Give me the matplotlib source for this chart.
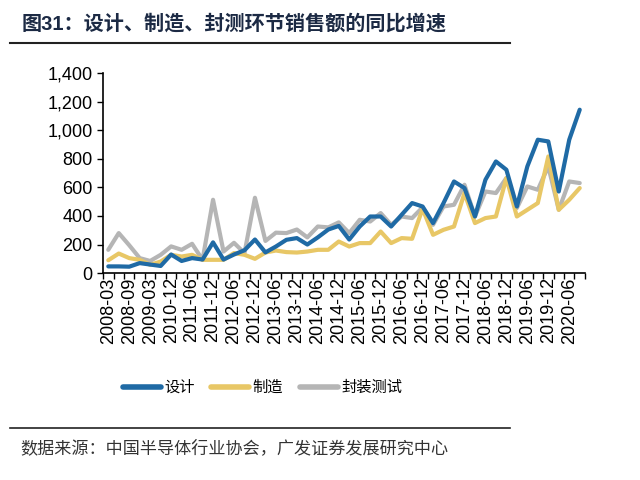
import matplotlib
matplotlib.use("Agg")
import matplotlib.pyplot as plt

plt.rcParams['font.family'] = ['Liberation Sans', 'Noto Sans CJK SC']

quarters = ["2008-03", "2008-06", "2008-09", "2008-12", "2009-03", "2010-09",
            "2010-12", "2011-03", "2011-06", "2011-09", "2011-12", "2012-03",
            "2012-06", "2012-09", "2012-12", "2013-03", "2013-06", "2013-09",
            "2013-12", "2014-03", "2014-06", "2014-09", "2014-12", "2015-03",
            "2015-06", "2015-09", "2015-12", "2016-03", "2016-06", "2016-09",
            "2016-12", "2017-03", "2017-06", "2017-09", "2017-12", "2018-03",
            "2018-06", "2018-09", "2018-12", "2019-03", "2019-06", "2019-09",
            "2019-12", "2020-03", "2020-06", "2020-09"]

design = [47, 47, 45, 70, 60, 50, 130, 85, 105, 95, 215, 95, 130, 160, 235, 145,
          186, 233, 245, 200, 250, 305, 330, 235, 326, 396, 396, 326, 408, 490,
          466, 350, 490, 641, 595, 396, 653, 781, 723, 466, 746, 933, 921, 571,
          933, 1143]
manufacture = [90, 137, 105, 93, 58, 81, 128, 116, 128, 93, 93, 93, 140, 128, 100,
               144, 158, 147, 144, 151, 163, 163, 221, 186, 210, 210, 291, 210,
               245, 240, 450, 268, 303, 326, 560, 350, 385, 396, 665, 396, 443,
               490, 816, 443, 513, 595]
packaging = [163, 280, 195, 105, 85, 128, 187, 163, 205, 93, 513, 151, 212, 140,
             527, 225, 283, 280, 305, 250, 326, 320, 355, 280, 373, 361, 420, 338,
             396, 385, 460, 338, 466, 478, 618, 396, 571, 560, 665, 455, 606, 583,
             746, 443, 641, 630]

series_names = ["设计", "制造", "封装测试"]
colors = ["#1f6aa5", "#e8c766", "#b5b5b5"]

fig = plt.figure(figsize=(6.4, 4.8), dpi=100)
ax = fig.add_axes([0.161, 0.431, 0.753, 0.417])

x = list(range(len(quarters)))
# grey first so blue sits on top like the source
order = [2, 1, 0]
data = [design, manufacture, packaging]
for k in order:
    ax.plot(x, data[k], color=colors[k], lw=3.0, solid_joinstyle='round',
            solid_capstyle='round', label=series_names[k])

ax.set_ylim(0, 1400)
ax.set_yticks(range(0, 1401, 200))
ax.set_yticklabels([f"{v:,}" for v in range(0, 1401, 200)], fontsize=13)
ax.set_xlim(-0.5, len(quarters) - 0.5)

# tick marks on category boundaries, labels on every second category
ax.set_xticks([i - 0.5 for i in range(len(quarters) + 1)])
ax.set_xticklabels([])
ax.set_xticks(x[::2], minor=True)
ax.set_xticklabels(quarters[::2], minor=True, rotation=90, fontsize=13)
ax.tick_params(axis='x', which='minor', length=0, pad=3)
ax.tick_params(axis='x', which='major', length=4, width=1, direction='out')
ax.tick_params(axis='y', length=4, width=1, direction='out')

for s in ['top', 'right']:
    ax.spines[s].set_visible(False)
for s in ['left', 'bottom']:
    ax.spines[s].set_linewidth(1.2)

handles, labels = ax.get_legend_handles_labels()
handles, labels = handles[::-1], labels[::-1]
leg = fig.legend(handles, labels, loc='center', bbox_to_anchor=(0.41, 0.193),
                 ncol=3, frameon=False, handlelength=2.5,
                 handletextpad=0.2, columnspacing=1.1,
                 prop={'family': 'Noto Sans CJK SC', 'size': 11})
for h in leg.get_lines():
    h.set_linewidth(4)

fig.text(0.034, 0.95, "图31：设计、制造、封测环节销售额的同比增速", fontsize=14.5,
         fontweight='bold', color='#1c2a44', va='center', ha='left')
fig.add_artist(plt.Line2D([0.016, 0.797], [0.911, 0.911], color='#222222', lw=1.5))
fig.add_artist(plt.Line2D([0.016, 0.797], [0.108, 0.108], color='#222222', lw=1.2))
fig.text(0.031, 0.067, "数据来源：中国半导体行业协会，广发证券发展研究中心", fontsize=12.3,
         color='#333333', va='center', ha='left', family='Noto Sans CJK SC')

fig.savefig("out.png", dpi=100)
